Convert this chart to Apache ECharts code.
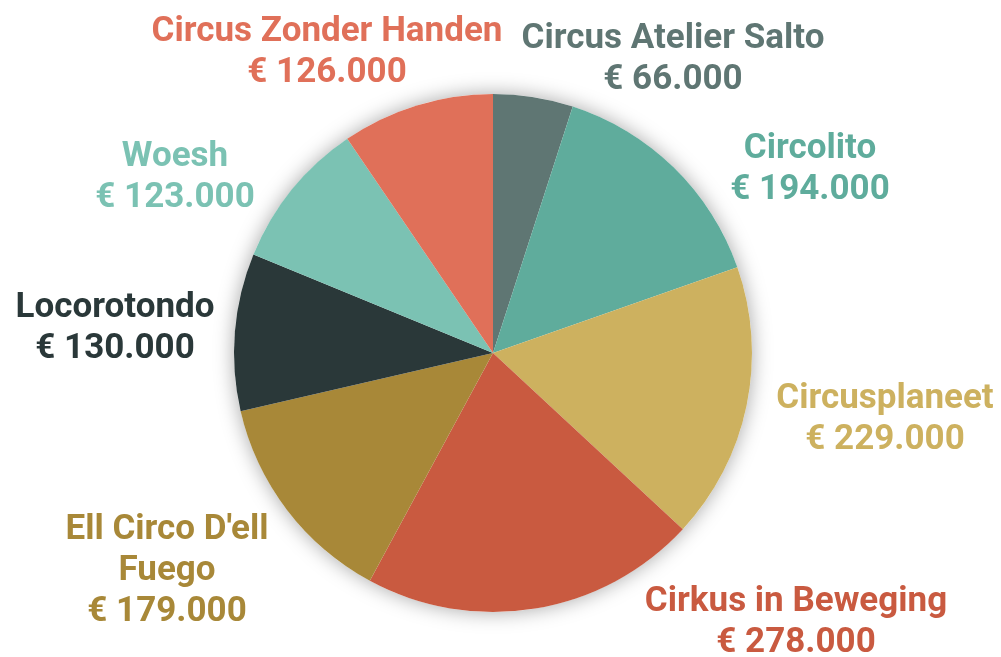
<!DOCTYPE html>
<html>
<head>
<meta charset="utf-8">
<script src="https://cdn.jsdelivr.net/npm/echarts@6/dist/echarts.min.js"></script>
<style>
  html, body { margin: 0; padding: 0; background: #fff; }
  #main { width: 1001px; height: 657px; }
</style>
</head>
<body>
<div id="main"></div>
<script>
// data
var names = ['Circus Atelier Salto', 'Circolito', 'Circusplaneet', 'Cirkus in Beweging',
             "Ell Circo D'ell\nFuego", 'Locorotondo', 'Woesh', 'Circus Zonder Handen'];
var values = [66000, 194000, 229000, 278000, 179000, 130000, 123000, 126000];
var colors = ['#5f7673', '#5fac9c', '#cdb15f', '#c95a40', '#a88838', '#2a3839', '#7bc2b3', '#e07059'];

// label centres (px)
var labelPos = [[673, 60], [810, 170], [885, 420], [796, 623], [167, 571], [115, 329], [175, 178], [327, 53]];

function euro(v) {
	return '€ ' + (v / 1000).toFixed(0) + '.000';
}

var chart = echarts.init(document.getElementById('main'));
var pieData = [];
var total = 0;
for (var i = 0; i < names.length; i++) {
	total += values[i];
	pieData.push({
		name: names[i],
		value: values[i],
		itemStyle: { color: colors[i] },
		label: { color: colors[i] }
	});
}

var option = {
	animation: false,
	series: [
		{
			// shadow disc behind the pie
			type: 'pie',
			center: [493, 353],
			radius: 259,
			silent: true,
			z: 1,
			data: [{ value: total, name: '' }],
			itemStyle: {
				color: '#ffffff',
				shadowBlur: 20,
				shadowColor: 'rgba(0,0,0,0.35)'
			},
			label: { show: false },
			labelLine: { show: false }
		},
		{
			type: 'pie',
			center: [493, 353],
			radius: 259,
			startAngle: 90,
			z: 2,
			data: pieData,
			label: {
				show: true,
				position: 'outside',
				formatter: function (p) { return p.name + '\n' + euro(p.value); },
				fontFamily: 'Roboto',
				fontWeight: 'bold',
				fontSize: 35,
				lineHeight: 41,
				align: 'center',
				overflow: 'none'
			},
			labelLine: { show: false },
			labelLayout: function (params) {
				var p = labelPos[params.dataIndex];
				return { x: p[0], y: p[1], align: 'center', verticalAlign: 'middle' };
			}
		}
	]
};
chart.setOption(option);
</script>
</body>
</html>
